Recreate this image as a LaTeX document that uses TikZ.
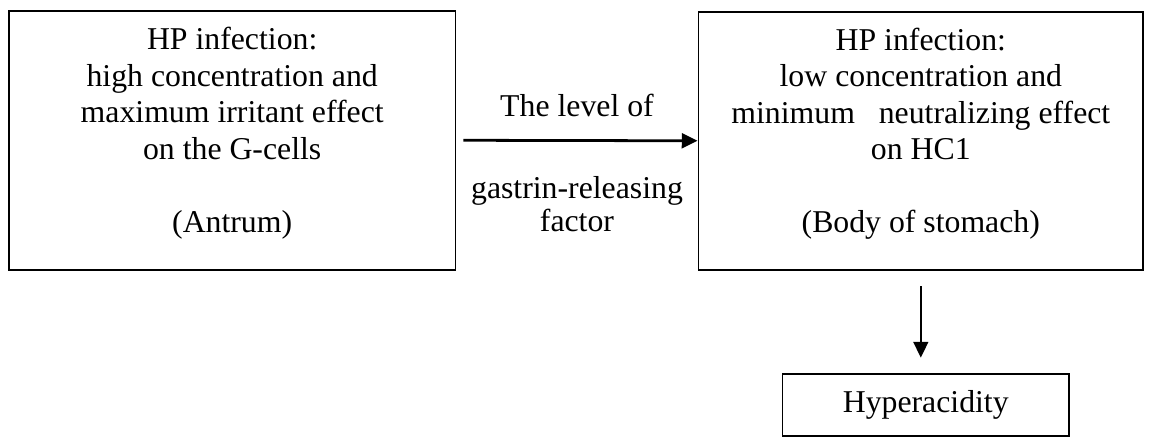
\documentclass[tikz,border=0pt]{standalone}
\usepackage{fontspec}
\setmainfont{Liberation Serif}
\usepackage{tikz}
\usetikzlibrary{arrows.meta,positioning}

\tikzset{
  infobox/.style={draw, line width=1.1pt, align=center, inner sep=0pt,
    font=\fontsize{18.3}{21}\selectfont},
  flowarrow/.style={-{Triangle[length=0.32cm, width=0.3cm]}}
}

\begin{document}
\begin{tikzpicture}[x=1cm, y=1cm]
\useasboundingbox (0,0) rectangle (23.34,-8.90);

\node[infobox, minimum width=9.04cm, minimum height=5.24cm] (antrum) at (4.70,-2.84)
  {HP infection:\\ high concentration and\\ maximum irritant effect\\ on the G-cells\\[21pt]
   (Antrum)\rule[-0.42cm]{0pt}{0pt}};
\node[infobox, minimum width=9.0cm, minimum height=5.22cm] (body) at (18.64,-2.85)
  {HP infection:\\ low concentration and\\ minimum~~~neutralizing effect\\ on HC1\\[21pt]
   (Body of stomach)\rule[-0.42cm]{0pt}{0pt}};
\node[infobox, minimum width=5.8cm, minimum height=1.24cm] (hyper) at (18.74,-8.20) {Hyperacidity};

\draw [flowarrow, line width=1.6pt] ([xshift=0.14cm]antrum.east) -- (body.west);
\draw (11.68,-2.14) node[font=\fontsize{18.3}{21}\selectfont] (level) {The level of};
\draw (11.68,-4.13) node[align=center, font=\fontsize{18.3}{19}\selectfont] (factor) {gastrin-releasing\\ factor};

\draw [flowarrow, line width=1.1pt] ([yshift=-0.32cm]body.south) -- ([yshift=0.32cm]body.south |- hyper.north);

\end{tikzpicture}
\end{document}
